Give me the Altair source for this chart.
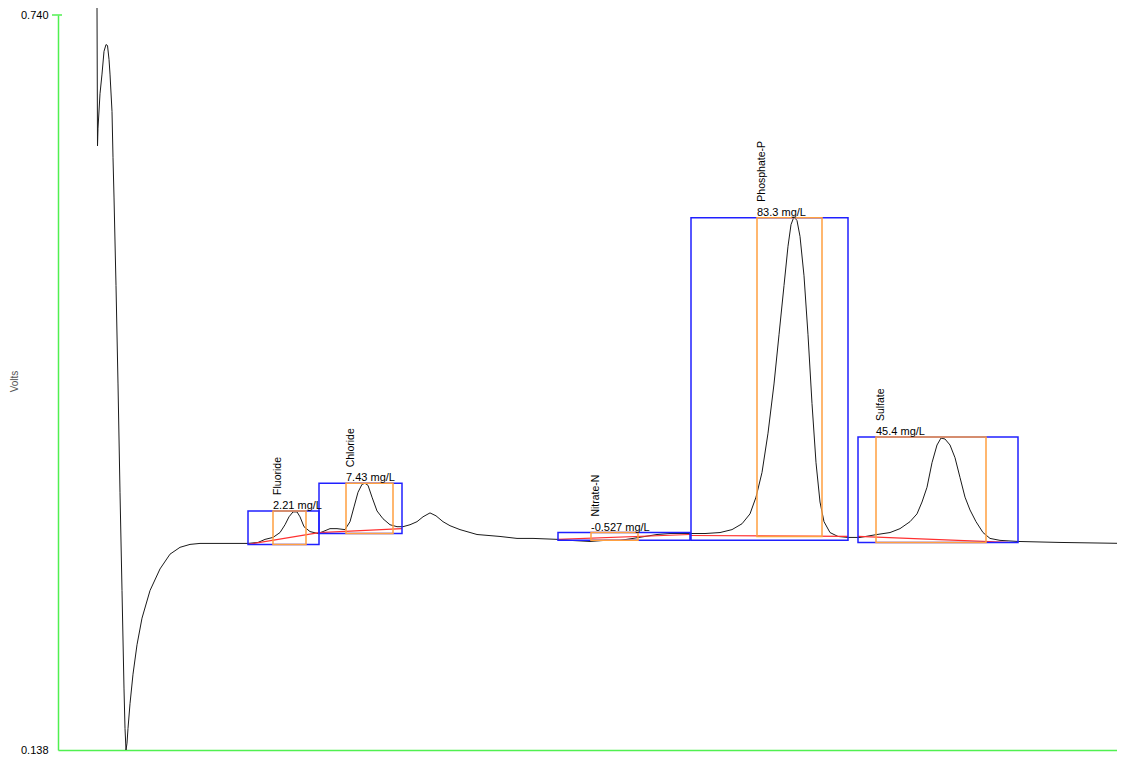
import altair as alt
import pandas as pd

# ---- detector trace (time in s, signal in volts) ----
trace_t = [39, 39.5, 40, 42, 44, 46, 48, 49.5, 51, 52, 54, 55, 56, 58, 60, 62, 64, 66, 67, 68,
           69, 70, 72, 75, 79, 84, 92, 102, 112, 122, 132, 142, 190, 200, 207, 215, 222, 227,
           231, 235, 239, 242, 246, 252, 260, 265, 272, 279, 287, 292, 296, 300, 304, 307, 310,
           314, 319, 325, 332, 339, 345, 352, 359, 365, 372, 378, 385, 392, 402, 419, 442, 459,
           475, 500, 512, 532, 547, 562, 575, 587, 599, 612, 632, 647, 662, 674, 684, 692, 698,
           704, 710, 716, 721, 726, 730, 733, 736, 739, 742, 746, 750, 754, 758, 762, 766, 772,
           780, 790, 802, 819, 832, 842, 852, 859, 864, 869, 874, 879, 883, 887, 892, 897, 902,
           907, 912, 918, 925, 932, 942, 960, 1002, 1067]
trace_v = [0.7481, 0.6328, 0.6473, 0.6755, 0.6916, 0.7102, 0.7158, 0.7150, 0.7037, 0.6916,
           0.6610, 0.6231, 0.5909, 0.5184, 0.4378, 0.3491, 0.2686, 0.1880, 0.1557, 0.1380,
           0.1436, 0.1557, 0.1759, 0.2001, 0.2242, 0.2460, 0.2686, 0.2863, 0.2984, 0.3040,
           0.3064, 0.3072, 0.3072, 0.3080, 0.3105, 0.3121, 0.3161, 0.3225, 0.3290, 0.3330,
           0.3330, 0.3290, 0.3209, 0.3169, 0.3153, 0.3169, 0.3193, 0.3193, 0.3185, 0.3250,
           0.3371, 0.3491, 0.3556, 0.3564, 0.3548, 0.3451, 0.3338, 0.3274, 0.3225, 0.3209,
           0.3209, 0.3225, 0.3250, 0.3290, 0.3322, 0.3298, 0.3250, 0.3217, 0.3185, 0.3145,
           0.3129, 0.3113, 0.3113, 0.3105, 0.3097, 0.3088, 0.3097, 0.3097, 0.3113, 0.3129,
           0.3145, 0.3153, 0.3153, 0.3153, 0.3161, 0.3185, 0.3233, 0.3314, 0.3451, 0.3653,
           0.3975, 0.4378, 0.4781, 0.5184, 0.5506, 0.5683, 0.5748, 0.5716, 0.5587, 0.5264,
           0.4781, 0.4217, 0.3733, 0.3411, 0.3250, 0.3161, 0.3129, 0.3121, 0.3121, 0.3145,
           0.3161, 0.3193, 0.3250, 0.3314, 0.3411, 0.3532, 0.3733, 0.3878, 0.3935, 0.3927,
           0.3878, 0.3774, 0.3612, 0.3451, 0.3346, 0.3250, 0.3161, 0.3113, 0.3097, 0.3088,
           0.3080, 0.3072]

# ---- peaks ----
peak_names = ["Fluoride", "Chloride", "Nitrate-N", "Phosphate-P", "Sulfate"]
peak_conc = ["2.21 mg/L", "7.43 mg/L", "-0.527 mg/L", "83.3 mg/L", "45.4 mg/L"]
# integration window (blue) and peak window (orange), in seconds
win_start = [190, 261, 500, 633, 800]
win_end = [261, 344, 632, 790, 960]
pk_start = [215, 288, 533, 699, 818]
pk_end = [248, 335, 580, 764, 928]
box_top = [0.3338, 0.3564, 0.3161, 0.5740, 0.3943]
win_bottom = [0.3064, 0.3153, 0.3097, 0.3097, 0.3080]
pk_bottom = [0.3064, 0.3153, 0.3097, 0.3129, 0.3080]
# baselines (red)
base_t1 = [190, 261, 500, 633, 800]
base_v1 = [0.3064, 0.3161, 0.3105, 0.3137, 0.3129]
base_t2 = [261, 344, 632, 790, 950]
base_v2 = [0.3161, 0.3193, 0.3145, 0.3129, 0.3080]

y_ticks = [0.138, 0.740]

FONT = "Liberation Sans"
GREEN = "#50f050"
BLUE = "#2020ff"
ORANGE = "#ffa040"
RED = "#ff3030"

trace = pd.DataFrame({"t": trace_t, "v": trace_v, "i": list(range(len(trace_t)))})
peaks = pd.DataFrame({
    "name": peak_names, "conc": peak_conc,
    "ws": win_start, "we": win_end, "ps": pk_start, "pe": pk_end,
    "top": box_top, "wb": win_bottom, "pb": pk_bottom,
})
bases = pd.DataFrame({"t1": base_t1, "v1": base_v1, "t2": base_t2, "v2": base_v2})

xs = alt.Scale(domain=[0, 1059], nice=False, zero=False)
ys = alt.Scale(domain=[0.138, 0.740], nice=False, zero=False)

x_axis = alt.Axis(labels=False, ticks=False, grid=False, domainColor=GREEN, domainWidth=1.5, title="")
y_axis = alt.Axis(values=y_ticks, format=".3f", grid=False, ticks=False, domainColor=GREEN,
                  domainWidth=1.5, labelFont=FONT, labelFontSize=11, labelColor="#000000",
                  labelPadding=10, title="Volts", titleFont=FONT, titleFontSize=10,
                  titleFontWeight="normal", titleColor="#555555", titleAngle=270,
                  titleX=-44, titleY=366, titleAlign="center", titleBaseline="middle")

line = alt.Chart(trace).mark_line(color="#1a1a1a", strokeWidth=1, clip=False).encode(
    x=alt.X("t:Q", scale=xs, axis=x_axis),
    y=alt.Y("v:Q", scale=ys, axis=y_axis),
    order="i:Q",
)

blue = alt.Chart(peaks).mark_rect(fillOpacity=0, stroke=BLUE, strokeWidth=1.5).encode(
    x=alt.X("ws:Q", scale=xs, axis=x_axis), x2="we:Q",
    y=alt.Y("top:Q", scale=ys, axis=y_axis), y2="wb:Q")
orange = alt.Chart(peaks).mark_rect(fillOpacity=0, stroke=ORANGE, strokeWidth=1.5).encode(
    x=alt.X("ps:Q", scale=xs, axis=x_axis), x2="pe:Q",
    y=alt.Y("top:Q", scale=ys, axis=y_axis), y2="pb:Q")
red = alt.Chart(bases).mark_rule(color=RED, strokeWidth=1.2).encode(
    x=alt.X("t1:Q", scale=xs, axis=x_axis), x2="t2:Q",
    y=alt.Y("v1:Q", scale=ys, axis=y_axis), y2="v2:Q")

names = alt.Chart(peaks).mark_text(angle=270, align="left", baseline="top", dx=16,
                                   font=FONT, fontSize=10.5, color="#000000").encode(
    x=alt.X("ps:Q", scale=xs, axis=x_axis), y=alt.Y("top:Q", scale=ys, axis=y_axis), text="name:N")
concs = alt.Chart(peaks).mark_text(align="left", baseline="alphabetic", dy=-2,
                                   font=FONT, fontSize=11, color="#000000").encode(
    x=alt.X("ps:Q", scale=xs, axis=x_axis), y=alt.Y("top:Q", scale=ys, axis=y_axis), text="conc:N")

top_tick = alt.Chart(pd.DataFrame({"v": [y_ticks[1]]})).mark_rule(color=GREEN, strokeWidth=1.5).encode(
    x=alt.value(-6), x2=alt.value(4), y=alt.Y("v:Q", scale=ys, axis=y_axis))

chart = alt.layer(line, red, blue, orange, names, concs, top_tick).properties(
    width=1059, height=735,
    background="#ffffff",
    autosize=alt.AutoSizeParams(type="none"),
    padding={"left": 50, "top": 7, "right": 0, "bottom": 6},
).configure_view(strokeWidth=0).configure_axis(grid=False)

chart.save("out.html", embed_options={"renderer": "svg", "actions": False})
